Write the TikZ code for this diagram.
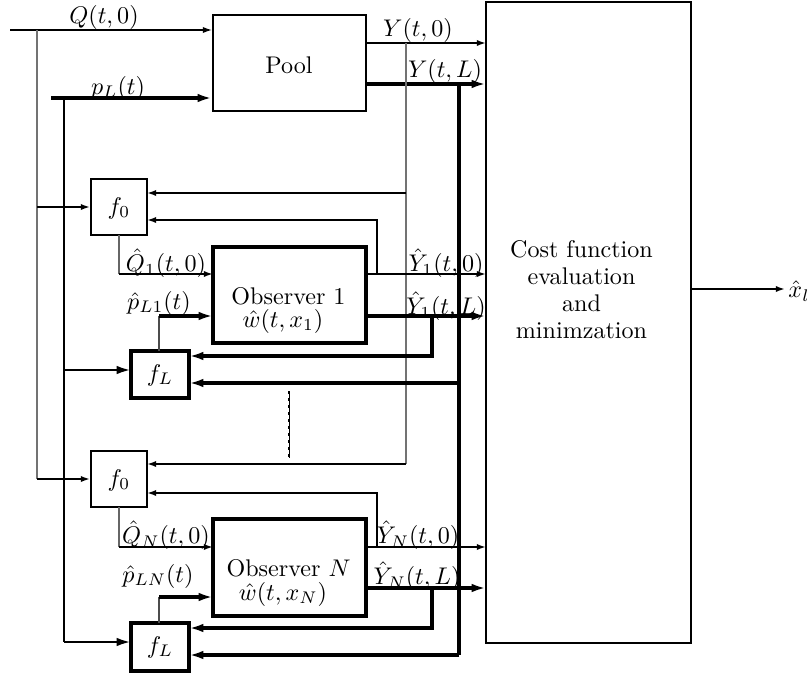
\documentclass[tikz,border=0pt]{standalone}
\usetikzlibrary{arrows.meta,fit}
\begin{document}
\begin{tikzpicture}[x=0.415pt,y=-0.415pt,
  thinln/.style={line width=0.55pt},
  grayln/.style={line width=0.45pt,black!55},
  medln/.style={line width=0.85pt},
  thickln/.style={line width=1.4pt},
  stip/.style={-{Latex[length=3.8pt,width=2.6pt]}},
  btip/.style={-{Latex[length=6pt,width=3.6pt]}},
  box/.style={draw,line width=0.85pt,inner sep=0pt},
  obsbox/.style={draw,line width=1.25pt,inner sep=0pt},
  flbox/.style={draw,line width=1.6pt,inner sep=0pt},
  txt/.style={inner sep=0pt,anchor=base},
  lbl/.style={inner sep=0pt}]
\useasboundingbox (0,0) rectangle (810,674);

% blocks
\node[box,fit={(213,15)(366,111)}] (pool) {};
\node[txt] (pooltxt) at (289,73) {Pool};
\node[box,fit={(486,2)(691,643)}] (cost) {};
\node[txt] (ct1) at (581.5,257) {Cost function};
\node[txt] (ct2) at (581.5,284) {evaluation};
\node[txt] (ct3) at (581.5,311) {and};
\node[txt] (ct4) at (581.5,338) {minimzation};
\node[box,fit={(91,179)(147,235)}] (f0a) {};
\node[lbl] (f0atxt) at (119,208) {$f_0$};
\node[box,fit={(91,451)(147,507)}] (f0b) {};
\node[lbl] (f0btxt) at (119,480) {$f_0$};
\node[flbox,fit={(131,351)(189,398)}] (fLa) {};
\node[lbl] (fLatxt) at (160,375) {$f_L$};
\node[flbox,fit={(131,623)(189,671)}] (fLb) {};
\node[lbl] (fLbtxt) at (160,647) {$f_L$};
\node[obsbox,fit={(213,247)(366,343)}] (obs1) {};
\node[txt] (o1a) at (288.5,304) {Observer 1};
\node[txt] (o1b) at (283,327) {$\hat w(t,x_1)$};
\node[obsbox,fit={(213,519)(366,616)}] (obsN) {};
\node[txt] (oNa) at (288.5,576) {Observer $N$};
\node[txt] (oNb) at (283,600) {$\hat w(t,x_N)$};

% inputs to pool
\coordinate (qin) at (10,30);
\coordinate (pin) at (51,98);
\draw[thinln,stip] (qin) -- (pool.west |- qin);
\draw[thickln,btip] (pin) -- (pool.west |- pin);
\node[lbl] (lq) at (104,17) {$Q(t,0)$};
\node[lbl] (lp) at (118,88) {$p_L(t)$};

% Q distribution
\draw[grayln] (37,30) -- (37,479);
\draw[line width=0.7pt,stip] (37,479) -- (f0b.west);
\draw[line width=0.7pt,stip] (37,207) -- (f0a.west);

% pL distribution
\draw[line width=0.7pt] (64,98) -- (64,642);
\draw[line width=1.1pt,btip] (64,370) -- (131,370);
\draw[line width=1.1pt,btip] (64,642) -- (131,642);

% pool outputs
\draw[medln,stip] (366,43) -- (486,43);
\draw[thickln,btip] (366,84) -- (486,84);
\node[lbl] (ly0) at (418,30) {$Y(t,0)$};
\node[lbl] (lyL) at (445,71) {$Y(t,L)$};

\draw[grayln] (406,43) -- (406,464);
\draw[medln,stip] (406,193) -- (147,193);
\draw[medln,stip] (406,464) -- (147,464);

\draw[thickln] (459,84) -- (459,655);
\draw[thickln,btip] (459,383) -- (189,383);
\draw[thickln,btip] (459,655) -- (189,655);

% observer 1
\draw[line width=0.8pt,black!60] (119,235) -- (119,274);
\draw[medln,stip] (119,274) -- (213,274);
\node[lbl] (lq1) at (166,263) {$\hat Q_1(t,0)$};
\draw[line width=0.8pt,black!70] (159,351) -- (159,316);
\draw[thickln,btip] (159,316) -- (213,316);
\node[lbl] (lp1) at (159,303) {$\hat p_{L1}(t)$};

\draw[medln,stip] (366,274) -- (486,274);
\draw[thickln,btip] (366,316) -- (486,316);
\node[lbl] (ly10) at (446,263) {$\hat Y_1(t,0)$};
\node[lbl] (ly1L) at (446,306) {$\hat Y_1(t,L)$};
\draw[line width=1.1pt,stip] (377,274) -- (377,220) -- (147,220);
\draw[thickln,btip] (432,316) -- (432,356) -- (189,356);

% observer N
\draw[line width=0.8pt,black!60] (119,507) -- (119,547);
\draw[medln,stip] (119,547) -- (213,547);
\node[lbl] (lqN) at (166,535) {$\hat Q_N(t,0)$};
\draw[line width=0.8pt,black!70] (159,623) -- (159,597);
\draw[thickln,btip] (159,597) -- (213,597);
\node[lbl] (lpN) at (158,576) {$\hat p_{LN}(t)$};

\draw[medln,stip] (366,547) -- (486,547);
\draw[thickln,btip] (366,588) -- (486,588);
\node[lbl] (lyN0) at (418,535) {$\hat Y_N(t,0)$};
\node[lbl] (lyNL) at (417,576) {$\hat Y_N(t,L)$};
\draw[line width=1.1pt,stip] (377,547) -- (377,493) -- (147,493);
\draw[thickln,btip] (432,588) -- (432,628) -- (189,628);

% dots
\draw[line width=0.35pt] (289,391) -- (289,458);
\draw[line width=1.1pt,dash pattern=on 1.1pt off 1.8pt] (289,391) -- (289,458);

% output
\draw[medln,stip] (cost.east |- 0,289) -- (785,289);
\node[lbl,anchor=west] (lx) at (788,291) {$\hat x_l$};
\end{tikzpicture}
\end{document}
